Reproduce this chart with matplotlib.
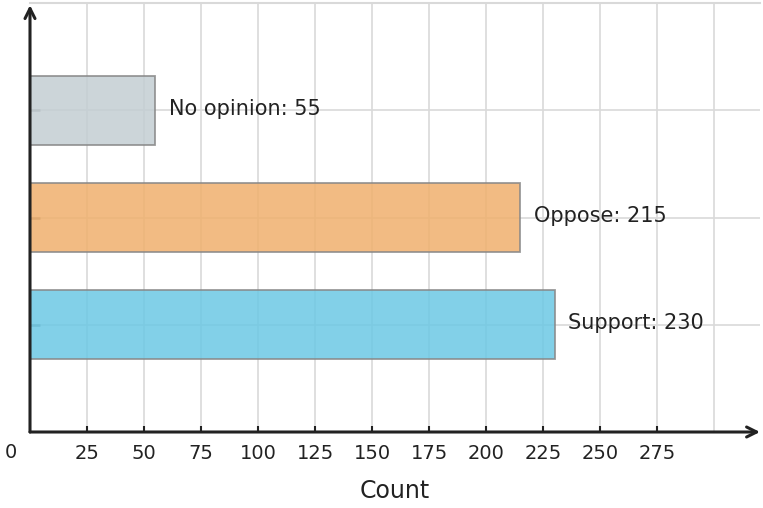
import matplotlib
matplotlib.use("Agg")
import matplotlib.pyplot as plt

categories = ["Support", "Oppose", "No opinion"]
values = [230, 215, 55]
colors = ["#6CC8E4", "#F0B06D", "#C3CED3"]
xtick_vals = [25, 50, 75, 100, 125, 150, 175, 200, 225, 250, 275]
grid_vals = [25, 50, 75, 100, 125, 150, 175, 200, 225, 250, 275, 300]

fig = plt.figure(figsize=(7.63, 5.08), dpi=100)
ax = fig.add_axes([30/763, 76/508, 730/763, 429/508])
ax.set_xlim(0, 320)
ax.set_ylim(-1, 3)

grid_c = "#d9d9d9"
for g in grid_vals:
    ax.axvline(g, color=grid_c, lw=1.2, zorder=0)
for i in range(len(categories)):
    ax.axhline(i, color=grid_c, lw=1.2, zorder=0)
ax.axhline(3, color=grid_c, lw=1.5, zorder=0, clip_on=False)

ypos = list(range(len(categories)))
ax.barh(ypos, values, height=0.645, color=colors, alpha=0.85,
        edgecolor="#888888", linewidth=1.3, zorder=2)

for y, c, v in zip(ypos, categories, values):
    ax.annotate(f"{c}: {v}", xy=(v, y), xytext=(9.5, 1), textcoords="offset points",
                va="center", ha="left", fontsize=15, color="#222222", zorder=4)

for s in ax.spines.values():
    s.set_visible(False)

ax.set_xticks(xtick_vals)
ax.set_xticklabels([str(v) for v in xtick_vals], fontsize=14, color="#222222")
ax.tick_params(axis="x", direction="in", length=4.5, width=1.5, color="#222222", pad=8.5)
ax.set_yticks(ypos)
ax.set_yticklabels([])
ax.tick_params(axis="y", direction="in", length=7, width=1.8, color="#888888")
ax.annotate("0", xy=(0, -1), xytext=(-14, -14.5), textcoords="offset points",
            ha="center", va="center", fontsize=14, color="#222222", annotation_clip=False)

ax.set_xlabel("Count", fontsize=17, color="#222222", labelpad=12)

ax.annotate("", xy=(1.0, 0), xytext=(0, 0), xycoords="axes fraction",
            arrowprops=dict(arrowstyle="->", lw=2.2, color="#222222",
                            shrinkA=0, shrinkB=0, mutation_scale=18), zorder=5)
ax.annotate("", xy=(0, 0.995), xytext=(0, 0), xycoords="axes fraction",
            arrowprops=dict(arrowstyle="->", lw=2.2, color="#222222",
                            shrinkA=0, shrinkB=0, mutation_scale=18), zorder=5)

fig.savefig("out.png", dpi=100)
